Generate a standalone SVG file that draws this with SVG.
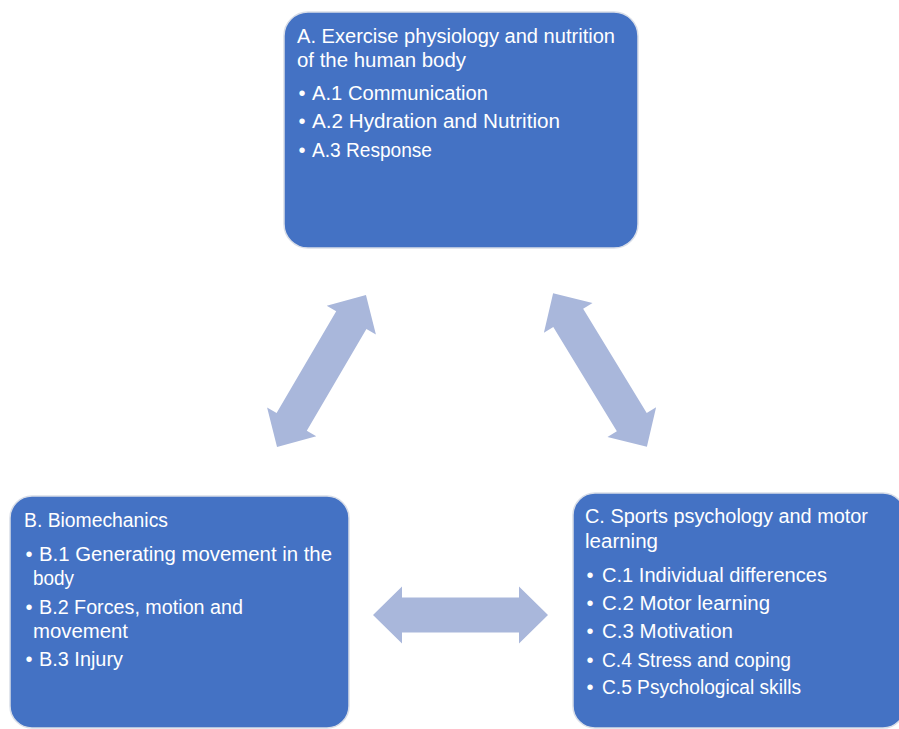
<svg xmlns="http://www.w3.org/2000/svg" width="899" height="729" viewBox="0 0 899 729">
<style>
.box{fill:#4472C4;stroke:#d9dee8;stroke-width:1.5}
.t{font-family:"Liberation Sans",Arial,sans-serif;font-size:20px;fill:#ffffff}
.b{font-family:"Liberation Sans",Arial,sans-serif;font-size:20px;fill:#ffffff;text-anchor:middle}
.arrow{fill:#A9B7DB}
</style>
<rect width="899" height="729" fill="#ffffff"/>
<g id="connectors">
<path class="arrow" transform="translate(321.5,371) rotate(-59.65)" d="M -88 0 L -59 -28.5 L -59 -17.5 L 59 -17.5 L 59 -28.5 L 88 0 L 59 28.5 L 59 17.5 L -59 17.5 L -59 28.5 Z"/>
<path class="arrow" transform="translate(600,370) rotate(58.6)" d="M -90 0 L -61 -28.5 L -61 -17.5 L 61 -17.5 L 61 -28.5 L 90 0 L 61 28.5 L 61 17.5 L -61 17.5 L -61 28.5 Z"/>
<path class="arrow" transform="translate(460.5,615)" d="M -87.5 0 L -58.5 -28.5 L -58.5 -17.5 L 58.5 -17.5 L 58.5 -28.5 L 87.5 0 L 58.5 28.5 L 58.5 17.5 L -58.5 17.5 L -58.5 28.5 Z"/>
</g>
<g id="nodeA">
<rect class="box" x="284" y="12" width="354" height="236" rx="24"/>
<text class="t" x="297" y="43" textLength="318" lengthAdjust="spacingAndGlyphs">A. Exercise physiology and nutrition</text>
<text class="t" x="297" y="67" textLength="169" lengthAdjust="spacingAndGlyphs">of the human body</text>
<text class="b" x="302" y="100">•</text>
<text class="t" x="312" y="100" textLength="176" lengthAdjust="spacingAndGlyphs">A.1 Communication</text>
<text class="b" x="302" y="128">•</text>
<text class="t" x="312" y="128" textLength="248" lengthAdjust="spacingAndGlyphs">A.2 Hydration and Nutrition</text>
<text class="b" x="302" y="157">•</text>
<text class="t" x="312" y="157" textLength="120" lengthAdjust="spacingAndGlyphs">A.3 Response</text>
</g>
<g id="nodeB">
<rect class="box" x="10" y="496" width="339" height="232" rx="22"/>
<text class="t" x="24" y="527" textLength="144" lengthAdjust="spacingAndGlyphs">B. Biomechanics</text>
<text class="b" x="29" y="561">•</text>
<text class="t" x="39" y="561" textLength="293" lengthAdjust="spacingAndGlyphs">B.1 Generating movement in the</text>
<text class="t" x="33" y="585" textLength="41" lengthAdjust="spacingAndGlyphs">body</text>
<text class="b" x="29" y="614">•</text>
<text class="t" x="39" y="614" textLength="204" lengthAdjust="spacingAndGlyphs">B.2 Forces, motion and</text>
<text class="t" x="33" y="638" textLength="95" lengthAdjust="spacingAndGlyphs">movement</text>
<text class="b" x="29" y="666">•</text>
<text class="t" x="39" y="666" textLength="84" lengthAdjust="spacingAndGlyphs">B.3 Injury</text>
</g>
<g id="nodeC">
<rect class="box" x="573" y="493" width="332" height="235" rx="22"/>
<text class="t" x="585" y="523" textLength="283" lengthAdjust="spacingAndGlyphs">C. Sports psychology and motor</text>
<text class="t" x="585" y="548" textLength="73" lengthAdjust="spacingAndGlyphs">learning</text>
<text class="b" x="590" y="582">•</text>
<text class="t" x="602" y="582" textLength="225" lengthAdjust="spacingAndGlyphs">C.1 Individual differences</text>
<text class="b" x="590" y="610">•</text>
<text class="t" x="602" y="610" textLength="168" lengthAdjust="spacingAndGlyphs">C.2 Motor learning</text>
<text class="b" x="590" y="638">•</text>
<text class="t" x="602" y="638" textLength="131" lengthAdjust="spacingAndGlyphs">C.3 Motivation</text>
<text class="b" x="590" y="667">•</text>
<text class="t" x="602" y="667" textLength="189" lengthAdjust="spacingAndGlyphs">C.4 Stress and coping</text>
<text class="b" x="590" y="694">•</text>
<text class="t" x="602" y="694" textLength="199" lengthAdjust="spacingAndGlyphs">C.5 Psychological skills</text>
</g>
</svg>
